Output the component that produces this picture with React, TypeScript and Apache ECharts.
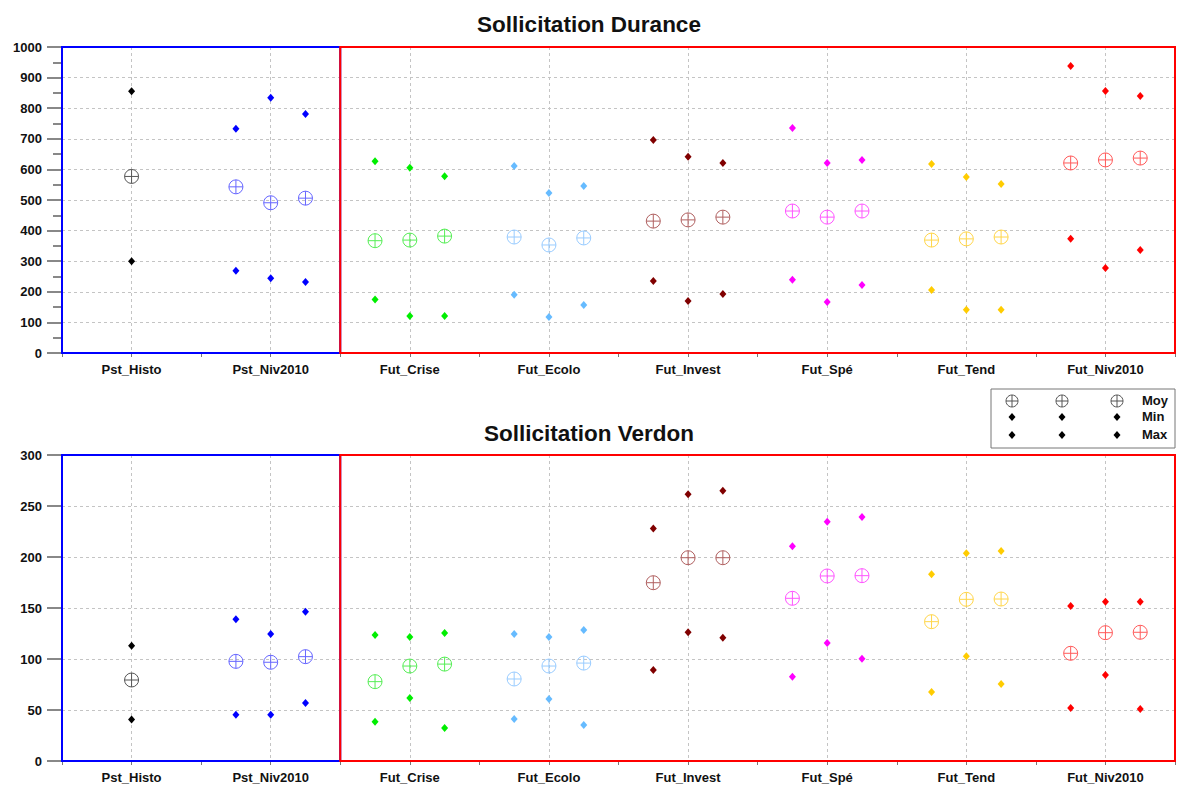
import React, { useEffect, useRef } from "react";
import * as echarts from "echarts";

const categories = ["Pst_Histo", "Pst_Niv2010", "Fut_Crise", "Fut_Ecolo", "Fut_Invest", "Fut_Spé", "Fut_Tend", "Fut_Niv2010"];

const durMoy = [[577], [543, 491, 506], [367, 369, 382], [379, 353, 376], [431, 435, 444], [464, 444, 464], [369, 373, 379], [621, 631, 637]];
const durMin = [[300], [269, 244, 232], [175, 121, 121], [190, 118, 157], [235, 170, 193], [239, 167, 222], [206, 141, 141], [373, 278, 337]];
const durMax = [[855], [733, 834, 781], [627, 605, 578], [611, 523, 546], [696, 641, 621], [735, 621, 631], [618, 575, 552], [938, 856, 840]];

const verMoy = [[79.4], [97.7, 96.8, 102.3], [77.8, 93.1, 95], [80.4, 93.1, 96], [174.8, 199.3, 199.3], [159.5, 181.4, 181.7], [136.6, 158.5, 158.8], [105.6, 125.8, 126.2]];
const verMin = [[40.8], [45.4, 45.4, 56.9], [38.6, 61.8, 32.4], [41.2, 60.8, 35.3], [89.2, 126.2, 120.9], [82.7, 115.7, 100.3], [67.6, 102.6, 75.5], [52, 84.3, 51]];
const verMax = [[113], [139, 124.5, 146.4], [123.5, 121.6, 125.5], [124.5, 121.6, 128.4], [228, 261.5, 265], [210.5, 234.6, 239.2], [183, 203.6, 205.9], [152, 156.2, 156.2]];

const markerColors = ["#000000", "#0000ff", "#00ee00", "#66bbff", "#800000", "#ff00ff", "#ffcc00", "#ff0000"];
const moyColors = ["#555555", "#6666ff", "#55ee55", "#99ccff", "#b06060", "#ff55ff", "#ffd64a", "#ff5a5a"];

const titles = ["Sollicitation Durance", "Sollicitation Verdon"];
const yMax = [1000, 300];
const yInterval = [100, 50];

const MOY_SYMBOL = "path://M0,10A10,10,0,1,1,20,10A10,10,0,1,1,0,10ZM10,0L10,20M0,10L20,10";

function xPos(group: number, idx: number, n: number) {
  const offs = n === 1 ? [0] : [-0.25, 0, 0.25];
  return group + 0.5 + offs[idx];
}

function buildSeries(gi: number, moy: number[][], mn: number[][], mx: number[][]) {
  const series: any[] = [];
  series.push({
    type: "scatter",
    xAxisIndex: gi,
    yAxisIndex: gi,
    data: [],
    silent: true,
    z: 5,
    markArea: {
      silent: true,
      label: { show: false },
      data: [
        [
          { xAxis: 0, yAxis: 0, itemStyle: { color: "rgba(0,0,0,0)", borderColor: "#0000ff", borderWidth: 2 } },
          { xAxis: 2, yAxis: yMax[gi] },
        ],
        [
          { xAxis: 2, yAxis: 0, itemStyle: { color: "rgba(0,0,0,0)", borderColor: "#ff0000", borderWidth: 2 } },
          { xAxis: 8, yAxis: yMax[gi] },
        ],
      ],
    },
  });
  categories.forEach((c, g) => {
    const n = moy[g].length;
    series.push({
      name: c + " Moy",
      type: "scatter",
      xAxisIndex: gi,
      yAxisIndex: gi,
      symbol: MOY_SYMBOL,
      symbolSize: 14,
      itemStyle: { color: "rgba(0,0,0,0)", borderColor: moyColors[g], borderWidth: 1, opacity: 1 },
      data: moy[g].map((v, i) => [xPos(g, i, n), v]),
      z: 3,
    });
    const pts: number[][] = [];
    mn[g].forEach((v, i) => pts.push([xPos(g, i, n), v]));
    mx[g].forEach((v, i) => pts.push([xPos(g, i, n), v]));
    series.push({
      name: c + " MinMax",
      type: "scatter",
      xAxisIndex: gi,
      yAxisIndex: gi,
      symbol: "diamond",
      symbolSize: [7, 8],
      itemStyle: { color: markerColors[g], opacity: 1 },
      data: pts,
      z: 3,
    });
  });
  return series;
}

const moySymbolGraphic = (x: number, y: number) => ({
  type: "group",
  x,
  y,
  children: [
    { type: "circle", shape: { cx: 0, cy: 0, r: 6 }, style: { fill: "none", stroke: "#555", lineWidth: 1 } },
    { type: "line", shape: { x1: -6, y1: 0, x2: 6, y2: 0 }, style: { stroke: "#555", lineWidth: 1 } },
    { type: "line", shape: { x1: 0, y1: -6, x2: 0, y2: 6 }, style: { stroke: "#555", lineWidth: 1 } },
  ],
});
const diamondGraphic = (x: number, y: number) => ({
  type: "polygon",
  shape: { points: [[x, y - 4], [x + 3.5, y], [x, y + 4], [x - 3.5, y]] },
  style: { fill: "#000" },
});

export default function App() {
  const ref = useRef<HTMLDivElement>(null);
  useEffect(() => {
    if (!ref.current) return;
    const chart = echarts.init(ref.current, undefined, { renderer: "svg" });
    const font = "'Liberation Sans', Arial, sans-serif";
    const gridTops = [47, 455];
    const xAxes = [0, 1].map((gi) => ({
      type: "value",
      gridIndex: gi,
      min: 0,
      max: 8,
      interval: 0.5,
      axisLine: { show: false },
      axisTick: { show: true, length: 4, lineStyle: { color: "#777" } },
      axisLabel: {
        show: true,
        margin: 10,
        fontSize: 13,
        fontWeight: "bold",
        color: "#111",
        fontFamily: font,
        formatter: (v: number) => {
          const r = v - Math.floor(v);
          return Math.abs(r - 0.5) < 1e-6 ? categories[Math.floor(v)] : "";
        },
      },
      splitLine: {
        show: true,
        lineStyle: { color: ["rgba(0,0,0,0)", "#c4c4c4"], type: [3, 3], width: 1 },
      },
    }));
    const yAxes = [0, 1].map((gi) => ({
      type: "value",
      gridIndex: gi,
      min: 0,
      max: yMax[gi],
      interval: yInterval[gi],
      axisLine: { show: false },
      axisTick: { show: true, length: 15, lineStyle: { color: "#888", width: 2 } },
      minorTick: { show: gi === 0, splitNumber: 2, length: 9, lineStyle: { color: "#888", width: 2 } },
      minorSplitLine: { show: false },
      axisLabel: {
        margin: 20,
        fontSize: 13,
        fontWeight: "bold",
        color: "#111",
        fontFamily: font,
        formatter: (v: number) => String(v),
      },
      splitLine: { show: true, lineStyle: { color: "#c4c4c4", type: [3, 3], width: 1 } },
    }));
    const option: any = {
      animation: false,
      backgroundColor: "#ffffff",
      title: [
        { text: titles[0], left: "center", top: 8, textStyle: { fontSize: 22.5, fontWeight: "bold", color: "#111", fontFamily: font } },
        { text: titles[1], left: "center", top: 417, textStyle: { fontSize: 22.5, fontWeight: "bold", color: "#111", fontFamily: font } },
      ],
      grid: gridTops.map((t) => ({ left: 62, top: t, width: 1114, height: 306 })),
      xAxis: xAxes,
      yAxis: yAxes,
      series: [...buildSeries(0, durMoy, durMin, durMax), ...buildSeries(1, verMoy, verMin, verMax)],
      graphic: [
        {
          type: "group",
          children: [
            { type: "rect", shape: { x: 991, y: 389, width: 184, height: 59 }, style: { fill: "#fff", stroke: "#777", lineWidth: 1 } },
            moySymbolGraphic(1012, 401),
            moySymbolGraphic(1062, 401),
            moySymbolGraphic(1117, 401),
            diamondGraphic(1012, 417),
            diamondGraphic(1062, 417),
            diamondGraphic(1117, 417),
            diamondGraphic(1012, 435),
            diamondGraphic(1062, 435),
            diamondGraphic(1117, 435),
            { type: "text", x: 1142, y: 394, style: { text: "Moy", fontSize: 13, fontWeight: "bold", fill: "#111", fontFamily: font } },
            { type: "text", x: 1142, y: 410, style: { text: "Min", fontSize: 13, fontWeight: "bold", fill: "#111", fontFamily: font } },
            { type: "text", x: 1142, y: 428, style: { text: "Max", fontSize: 13, fontWeight: "bold", fill: "#111", fontFamily: font } },
          ],
        },
      ],
    };
    chart.setOption(option);
    return () => chart.dispose();
  }, []);
  return <div ref={ref} style={{ position: "absolute", left: 0, top: 0, width: 1178, height: 785 }} />;
}
